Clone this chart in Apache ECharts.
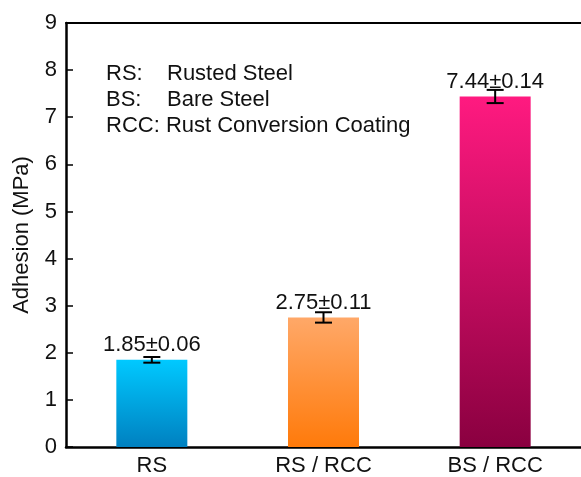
<!DOCTYPE html>
<html>
<head>
<meta charset="utf-8">
<script src="https://cdn.jsdelivr.net/npm/echarts@6/dist/echarts.min.js"></script>
<style>
  html, body { margin: 0; padding: 0; background: #fff; }
  #chart { width: 581px; height: 477px; }
</style>
</head>
<body>
<div id="chart"></div>
<script>
// Adhesion strength of coated steel samples (mean ± standard deviation)
const categories = ['RS', 'RS / RCC', 'BS / RCC'];
const adhesion = [1.85, 2.75, 7.44];
const deviation = [0.06, 0.11, 0.14];
const yTicks = [0, 1, 2, 3, 4, 5, 6, 7, 8, 9];

// Top/bottom colours of each bar's gradient
const barColors = [
  ['#00C9FF', '#0080C0'],
  ['#FFA868', '#FF7A0A'],
  ['#FF1A80', '#8A0040']
];

const FONT = '"Liberation Sans", Arial, sans-serif';
const FS = 22;

const chart = echarts.init(document.getElementById('chart'));

const barData = adhesion.map((v, i) => ({
  value: v,
  itemStyle: {
    color: new echarts.graphic.LinearGradient(0, 0, 0, 1, [
      { offset: 0, color: barColors[i][0] },
      { offset: 1, color: barColors[i][1] }
    ])
  }
}));

const errData = adhesion.map((v, i) => [i, v - deviation[i], v + deviation[i]]);

// Key text in the upper-left corner
const keyStyle = { fill: '#111', font: FS + 'px ' + FONT, verticalAlign: 'middle' };
const keyLines = [
  { x: 106, y: 74, text: 'RS:' },
  { x: 167, y: 74, text: 'Rusted Steel' },
  { x: 106, y: 100, text: 'BS:' },
  { x: 167, y: 100, text: 'Bare Steel' },
  { x: 106, y: 126, text: 'RCC: Rust Conversion Coating' }
];

chart.setOption({
  animation: false,
  grid: { left: 66, right: -10, top: 23, bottom: 30, containLabel: false },
  xAxis: [
    {
      type: 'category',
      data: categories,
      axisLine: { lineStyle: { color: '#000', width: 2.5 } },
      axisTick: { show: false },
      axisLabel: { color: '#111', fontFamily: FONT, fontSize: FS, margin: 8 }
    },
    {
      type: 'category',
      position: 'top',
      data: categories,
      axisLine: { lineStyle: { color: '#000', width: 2 } },
      axisTick: { show: false },
      axisLabel: { show: false }
    }
  ],
  yAxis: {
    type: 'value',
    min: yTicks[0],
    max: yTicks[yTicks.length - 1],
    interval: 1,
    name: 'Adhesion (MPa)',
    nameLocation: 'middle',
    nameGap: 33,
    nameTextStyle: { color: '#111', fontFamily: FONT, fontSize: FS },
    axisLine: { show: true, lineStyle: { color: '#000', width: 2.5 } },
    axisTick: { show: true, inside: true, length: 7, lineStyle: { color: '#000', width: 1.5 } },
    axisLabel: { color: '#111', fontFamily: FONT, fontSize: FS, margin: 9 },
    splitLine: { show: false }
  },
  series: [
    {
      type: 'bar',
      data: barData,
      barWidth: 71,
      label: {
        show: true,
        position: 'top',
        distance: 4,
        color: '#111',
        fontFamily: FONT,
        fontSize: FS,
        formatter: p => adhesion[p.dataIndex].toFixed(2) + '±' + deviation[p.dataIndex].toFixed(2)
      },
      z: 2
    },
    {
      type: 'custom',
      data: errData,
      z: 5,
      renderItem: function (params, api) {
        const x = api.value(0);
        const lo = api.coord([x, api.value(1)]);
        const hi = api.coord([x, api.value(2)]);
        const half = 8.5;
        const style = { stroke: '#000', lineWidth: 2 };
        return {
          type: 'group',
          children: [
            { type: 'line', shape: { x1: lo[0], y1: lo[1], x2: hi[0], y2: hi[1] }, style },
            { type: 'line', shape: { x1: lo[0] - half, y1: lo[1], x2: lo[0] + half, y2: lo[1] }, style },
            { type: 'line', shape: { x1: hi[0] - half, y1: hi[1], x2: hi[0] + half, y2: hi[1] }, style }
          ]
        };
      }
    }
  ],
  graphic: keyLines.map(k => ({
    type: 'text',
    x: k.x,
    y: k.y,
    style: Object.assign({ text: k.text }, keyStyle)
  }))
});
</script>
</body>
</html>
